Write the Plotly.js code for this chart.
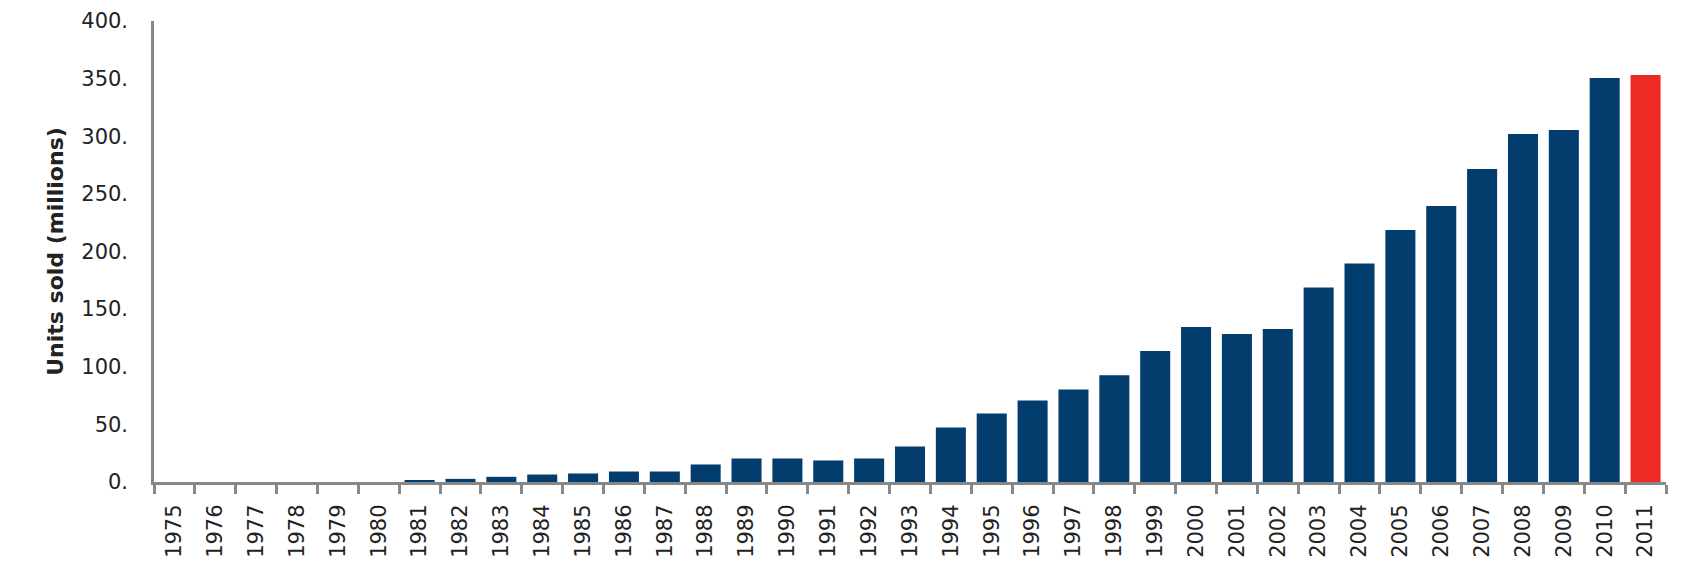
<!DOCTYPE html>
<html>
<head>
<meta charset="utf-8">
<script src="https://cdn.plot.ly/plotly-3.0.1.min.js"></script>
<style>
  html, body { margin: 0; padding: 0; background: #ffffff; }
  #units_graph { width: 1698px; height: 577px; }
</style>
</head>
<body>
<div id="units_graph"></div>
<script>
// Units sold per year (millions)
const years = [
  "1975", "1976", "1977", "1978", "1979", "1980", "1981", "1982", "1983", "1984",
  "1985", "1986", "1987", "1988", "1989", "1990", "1991", "1992", "1993", "1994",
  "1995", "1996", "1997", "1998", "1999", "2000", "2001", "2002", "2003", "2004",
  "2005", "2006", "2007", "2008", "2009", "2010", "2011",
];
const unitsSold = [
  0, 0, 0, 0, 0, 0, 1.2, 2.7, 4.5, 6.5,
  7.4, 9.1, 9.1, 15.2, 20.4, 20.4, 18.7, 20.4, 30.8, 47.3,
  59.4, 70.7, 80.3, 92.6, 113.7, 134.5, 128.4, 132.8, 168.8, 189.6,
  218.7, 239.5, 271.6, 302, 305.4, 350.5, 353.1,
];
const highlightYear = "2011";

const navy = "#023d6e";
const red = "#ee2a24";
const axisGrey = "#878787";

const units = {
  x: years,
  y: unitsSold,
  type: "bar",
  marker: {
    color: years.map((y) => (y === highlightYear ? red : navy)),
  },
  hovertemplate: "<extra></extra>" + "%{x}: %{y} M",
};

const layoutUnits = {
  width: 1698,
  height: 577,
  margin: { t: 21, l: 154, r: 32, b: 95 },
  paper_bgcolor: "#ffffff",
  plot_bgcolor: "#ffffff",
  showlegend: false,
  bargap: 0.265,
  font: { family: "DejaVu Sans, Verdana, sans-serif", color: "#222222", size: 21 },
  xaxis: {
    type: "category",
    showline: true,
    linecolor: axisGrey,
    linewidth: 3,
    showgrid: false,
    ticks: "outside",
    tickson: "boundaries",
    ticklen: 9,
    tickwidth: 2.5,
    tickcolor: axisGrey,
    tickangle: -90,
    ticklabelstandoff: 11,
    tickfont: { size: 21, color: "#222222" },
    fixedrange: true,
  },
  yaxis: {
    range: [0, 400],
    dtick: 50,
    tickformat: "d",
    ticksuffix: ".",
    showline: true,
    linecolor: axisGrey,
    linewidth: 2.5,
    showgrid: false,
    zeroline: false,
    ticks: "",
    ticklabelstandoff: 19,
    tickfont: { size: 21, color: "#222222" },
    title: {
      text: "<b>Units sold (millions)</b>",
      font: { size: 22, color: "#222222" },
      standoff: 12,
    },
    fixedrange: true,
  },
};

const configUnits = { displayModeBar: false, responsive: false };

Plotly.newPlot("units_graph", [units], layoutUnits, configUnits);
</script>
</body>
</html>
